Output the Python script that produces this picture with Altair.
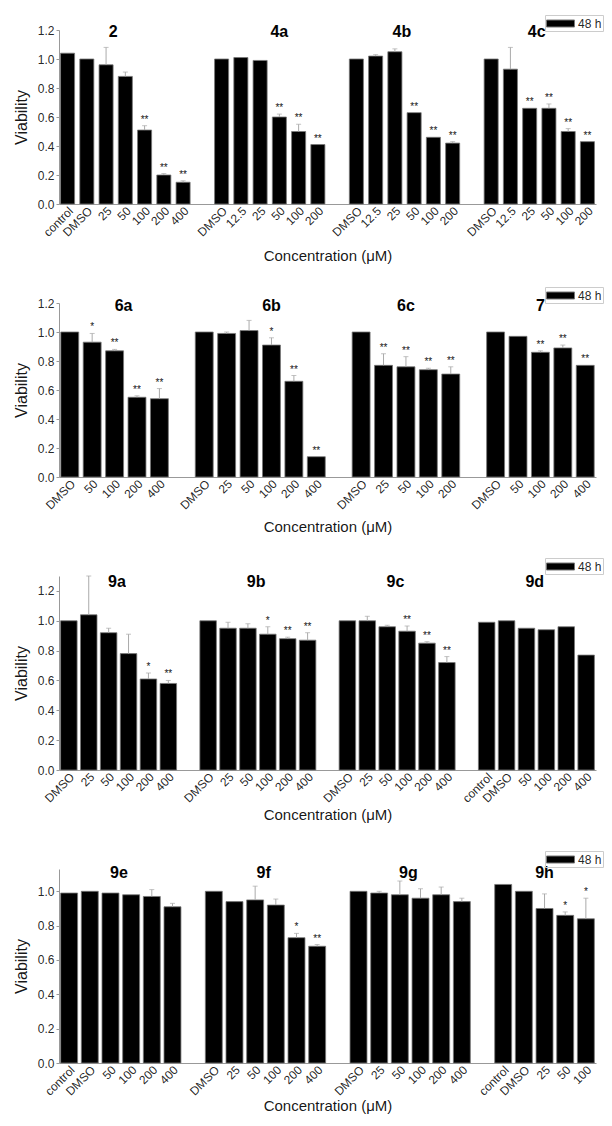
import altair as alt
import pandas as pd

FONT = "Liberation Sans"

# ---------------- data ----------------
# Row 1
g2_labels = ["control", "DMSO", "25", "50", "100", "200", "400"]
g2_values = [1.04, 1.00, 0.96, 0.88, 0.51, 0.20, 0.15]
g2_errors = [0.0, 0.0, 0.12, 0.03, 0.03, 0.01, 0.01]
g2_stars = ["", "", "", "", "**", "**", "**"]

g4a_labels = ["DMSO", "12.5", "25", "50", "100", "200"]
g4a_values = [1.00, 1.01, 0.99, 0.60, 0.50, 0.41]
g4a_errors = [0.0, 0.0, 0.0, 0.02, 0.05, 0.0]
g4a_stars = ["", "", "", "**", "**", "**"]

g4b_labels = ["DMSO", "12.5", "25", "50", "100", "200"]
g4b_values = [1.00, 1.02, 1.05, 0.63, 0.46, 0.42]
g4b_errors = [0.0, 0.01, 0.02, 0.0, 0.0, 0.01]
g4b_stars = ["", "", "", "**", "**", "**"]

g4c_labels = ["DMSO", "12.5", "25", "50", "100", "200"]
g4c_values = [1.00, 0.93, 0.66, 0.66, 0.50, 0.43]
g4c_errors = [0.0, 0.15, 0.0, 0.03, 0.02, 0.0]
g4c_stars = ["", "", "**", "**", "**", "**"]

# Row 2
g6a_labels = ["DMSO", "50", "100", "200", "400"]
g6a_values = [1.00, 0.93, 0.87, 0.55, 0.54]
g6a_errors = [0.0, 0.06, 0.01, 0.01, 0.07]
g6a_stars = ["", "*", "**", "**", "**"]

g6b_labels = ["DMSO", "25", "50", "100", "200", "400"]
g6b_values = [1.00, 0.99, 1.01, 0.91, 0.66, 0.14]
g6b_errors = [0.0, 0.01, 0.07, 0.05, 0.04, 0.0]
g6b_stars = ["", "", "", "*", "**", "**"]

g6c_labels = ["DMSO", "25", "50", "100", "200"]
g6c_values = [1.00, 0.77, 0.76, 0.74, 0.71]
g6c_errors = [0.0, 0.08, 0.07, 0.01, 0.05]
g6c_stars = ["", "**", "**", "**", "**"]

g7_labels = ["DMSO", "50", "100", "200", "400"]
g7_values = [1.00, 0.97, 0.86, 0.89, 0.77]
g7_errors = [0.0, 0.0, 0.01, 0.02, 0.0]
g7_stars = ["", "", "**", "**", "**"]

# Row 3
g9a_labels = ["DMSO", "25", "50", "100", "200", "400"]
g9a_values = [1.00, 1.04, 0.92, 0.78, 0.61, 0.58]
g9a_errors = [0.0, 0.26, 0.03, 0.13, 0.04, 0.02]
g9a_stars = ["", "", "", "", "*", "**"]

g9b_labels = ["DMSO", "25", "50", "100", "200", "400"]
g9b_values = [1.00, 0.95, 0.95, 0.91, 0.88, 0.87]
g9b_errors = [0.0, 0.04, 0.03, 0.05, 0.01, 0.05]
g9b_stars = ["", "", "", "*", "**", "**"]

g9c_labels = ["DMSO", "25", "50", "100", "200", "400"]
g9c_values = [1.00, 1.00, 0.96, 0.93, 0.85, 0.72]
g9c_errors = [0.0, 0.03, 0.01, 0.035, 0.01, 0.04]
g9c_stars = ["", "", "", "**", "**", "**"]

g9d_labels = ["control", "DMSO", "50", "100", "200", "400"]
g9d_values = [0.99, 1.00, 0.95, 0.94, 0.96, 0.77]
g9d_errors = [0.0, 0.0, 0.0, 0.0, 0.0, 0.0]
g9d_stars = ["", "", "", "", "", ""]

# Row 4
g9e_labels = ["control", "DMSO", "50", "100", "200", "400"]
g9e_values = [0.99, 1.00, 0.99, 0.98, 0.97, 0.91]
g9e_errors = [0.0, 0.0, 0.0, 0.0, 0.04, 0.02]
g9e_stars = ["", "", "", "", "", ""]

g9f_labels = ["DMSO", "25", "50", "100", "200", "400"]
g9f_values = [1.00, 0.94, 0.95, 0.92, 0.73, 0.68]
g9f_errors = [0.0, 0.0, 0.08, 0.035, 0.025, 0.01]
g9f_stars = ["", "", "", "", "*", "**"]

g9g_labels = ["DMSO", "25", "50", "100", "200", "400"]
g9g_values = [1.00, 0.99, 0.98, 0.96, 0.98, 0.94]
g9g_errors = [0.0, 0.01, 0.08, 0.055, 0.045, 0.02]
g9g_stars = ["", "", "", "", "", ""]

g9h_labels = ["control", "DMSO", "25", "50", "100"]
g9h_values = [1.04, 1.00, 0.90, 0.86, 0.84]
g9h_errors = [0.0, 0.0, 0.085, 0.02, 0.12]
g9h_stars = ["", "", "", "*", "*"]

legend_label = "48 h"


def grp(name, labels, values, errors, stars, anchor, edge):
    return dict(name=name, labels=labels, values=values, errors=errors,
                stars=stars, anchor=anchor, edge=edge)


rows_spec = [
    dict(groups=[grp("2", g2_labels, g2_values, g2_errors, g2_stars, 2, True),
                 grp("4a", g4a_labels, g4a_values, g4a_errors, g4a_stars, 3, False),
                 grp("4b", g4b_labels, g4b_values, g4b_errors, g4b_stars, 2, True),
                 grp("4c", g4c_labels, g4c_values, g4c_errors, g4c_stars, 2, True)],
         ytop=1.2, ticks=[0, 0.2, 0.4, 0.6, 0.8, 1.0, 1.2], height=174,
         pin=0.27, title_y=1.185, legend_y=-15, xtitle_pad=10),
    dict(groups=[grp("6a", g6a_labels, g6a_values, g6a_errors, g6a_stars, 2, True),
                 grp("6b", g6b_labels, g6b_values, g6b_errors, g6b_stars, 3, False),
                 grp("6c", g6c_labels, g6c_values, g6c_errors, g6c_stars, 2, False),
                 grp("7", g7_labels, g7_values, g7_errors, g7_stars, 2, False)],
         ytop=1.2, ticks=[0, 0.2, 0.4, 0.6, 0.8, 1.0, 1.2], height=174,
         pin=0.2, title_y=1.18, legend_y=-16, xtitle_pad=8),
    dict(groups=[grp("9a", g9a_labels, g9a_values, g9a_errors, g9a_stars, 2, True),
                 grp("9b", g9b_labels, g9b_values, g9b_errors, g9b_stars, 2, True),
                 grp("9c", g9c_labels, g9c_values, g9c_errors, g9c_stars, 2, True),
                 grp("9d", g9d_labels, g9d_values, g9d_errors, g9d_stars, 2, True)],
         ytop=1.3, ticks=[0, 0.2, 0.4, 0.6, 0.8, 1.0, 1.2], height=194,
         pin=0.17, title_y=1.26, legend_y=-18, xtitle_pad=3),
    dict(groups=[grp("9e", g9e_labels, g9e_values, g9e_errors, g9e_stars, 2, True),
                 grp("9f", g9f_labels, g9f_values, g9f_errors, g9f_stars, 2, True),
                 grp("9g", g9g_labels, g9g_values, g9g_errors, g9g_stars, 2, True),
                 grp("9h", g9h_labels, g9h_values, g9h_errors, g9h_stars, 2, False)],
         ytop=1.13, ticks=[0, 0.2, 0.4, 0.6, 0.8, 1.0], height=194,
         pin=0.18, title_y=1.105, legend_y=-18, xtitle_pad=1),
]

LABEL_EXPR = "split(datum.value, '|')[0] == 'gap' ? '' : split(datum.value, '|')[1]"


def make_row(spec):
    domain = []
    recs = []
    trecs = []
    for i, g in enumerate(spec["groups"]):
        if i > 0:
            domain.append(f"gap|{i}")
        for lab, v, e, s in zip(g["labels"], g["values"], g["errors"], g["stars"]):
            slot = f"{g['name']}|{lab}"
            domain.append(slot)
            recs.append(dict(slot=slot, value=v, err=e, top=v + e, star=s,
                             series=legend_label))
        trecs.append(dict(slot=f"{g['name']}|{g['labels'][g['anchor']]}",
                          name=g["name"], edge=g["edge"]))
    df = pd.DataFrame(recs)
    tdf = pd.DataFrame(trecs)
    err_df = df[df["err"] > 0]
    star_df = df[df["star"] != ""]

    xscale = alt.Scale(domain=domain, paddingInner=spec["pin"], paddingOuter=0.08)
    yscale = alt.Scale(domain=[0, spec["ytop"]], nice=False, zero=True)
    xaxis = alt.Axis(title="Concentration (\u03bcM)", labelAngle=-45,
                     labelExpr=LABEL_EXPR, ticks=False,
                     domainColor="#999", labelFontSize=12, labelOpacity=0.99,
                     labelColor="#222", labelPadding=1,
                     titleFontSize=15, titleFontWeight="normal", titleOpacity=0.99,
                     titleColor="#111", titlePadding=spec["xtitle_pad"])
    yaxis = alt.Axis(title="Viability", values=spec["ticks"], tickCount=20,
                     format=".1f", grid=False, tickSize=3, tickColor="#999",
                     domainColor="#999", labelFontSize=12, labelOverlap=False,
                     labelColor="#222", labelPadding=2, labelOpacity=0.99,
                     titleFontSize=16, titleFontWeight="normal", titleOpacity=0.99,
                     titleColor="#111", titlePadding=8)

    def X(**kw):
        return alt.X("slot:N", scale=xscale, axis=xaxis, **kw)

    def Y(field):
        return alt.Y(field, scale=yscale, axis=yaxis)

    bars = alt.Chart(df).mark_bar(stroke="#777", strokeWidth=0.8).encode(
        x=X(), y=Y("value:Q"),
        color=alt.Color("series:N",
                        scale=alt.Scale(domain=[legend_label], range=["#000000"]),
                        legend=alt.Legend(title=None, orient="none", legendX=486,
                                          legendY=spec["legend_y"],
                                          symbolType="M-1,-0.5L3,-0.5L3,0.5L-1,0.5Z",
                                          symbolSize=196, symbolStrokeColor="#777",
                                          symbolStrokeWidth=1, labelFontSize=12,
                                          labelFont=FONT, labelColor="#222",
                                          labelOpacity=0.99,
                                          labelOffset=17, strokeColor="#ccc",
                                          padding=1, rowPadding=0)),
    )
    ebar = alt.Chart(err_df).mark_rule(color="#aaa", strokeWidth=1).encode(
        x=X(), y=Y("value:Q"), y2="top:Q")
    ecap = alt.Chart(err_df).mark_tick(color="#aaa", size=5, thickness=1).encode(
        x=X(), y=Y("top:Q"))
    stars = alt.Chart(star_df).mark_text(baseline="bottom", dy=-1, fontSize=10,
                                         font=FONT, color="#111",
                                         opacity=0.99).encode(
        x=X(), y=Y("top:Q"), text="star:N")
    t_center = alt.Chart(tdf[~tdf["edge"]]).mark_text(
        fontSize=16, fontWeight="bold", font=FONT, baseline="middle",
        color="#000", opacity=0.99).encode(
        x=X(bandPosition=0.5), y=alt.datum(spec["title_y"]), text="name:N")
    t_edge = alt.Chart(tdf[tdf["edge"]]).mark_text(
        fontSize=16, fontWeight="bold", font=FONT, baseline="middle",
        color="#000", opacity=0.99).encode(
        x=X(bandPosition=1), y=alt.datum(spec["title_y"]), text="name:N")
    return alt.layer(bars, ebar, ecap, stars, t_center, t_edge).properties(
        width=537, height=spec["height"])


chart = alt.vconcat(*[make_row(s) for s in rows_spec], spacing=99,
                    bounds="flush").resolve_scale(
    color="independent").resolve_legend(color="independent").properties(
    padding={"left": 5, "top": 6, "right": 0, "bottom": 0}).configure(
    font=FONT).configure_view(stroke=None)

chart.save("out.html", embed_options={"renderer": "svg", "actions": False})
